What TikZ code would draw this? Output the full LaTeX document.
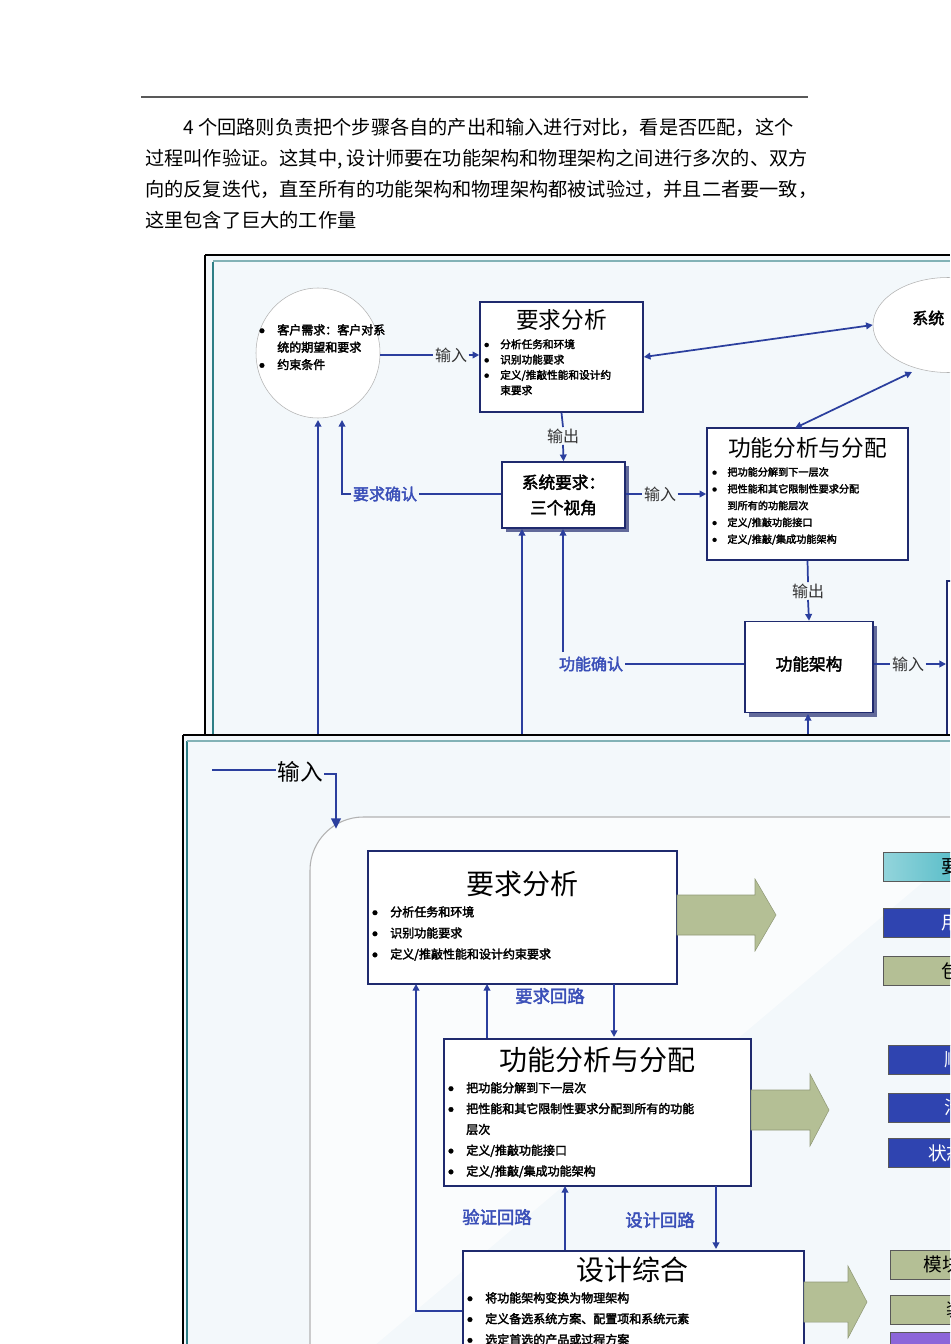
\documentclass[tikz,border=0pt]{standalone}
\usepackage{fontspec}
\newfontfamily\cjk{Noto Sans CJK SC}
\newfontfamily\cjkb[FakeBold=2.5]{Noto Sans CJK SC}
\usetikzlibrary{arrows.meta,shapes.geometric}
\definecolor{lnblue}{HTML}{2B3F9E}
\definecolor{lblblue}{HTML}{3A4FB8}
\definecolor{navy}{HTML}{1F2A6E}
\definecolor{bgpale}{HTML}{F3F8FB}
\definecolor{teal}{HTML}{2E7F86}
\definecolor{olive}{HTML}{B4BF95}
\definecolor{barblue}{HTML}{2F44B0}
\definecolor{barteal}{HTML}{4BB8C4}
\newcommand{\bl}[1]{\makebox[1.5em][l]{\raisebox{0.25ex}{\scalebox{0.45}{●}}}#1}
\newcommand{\bc}[1]{\hspace*{1.5em}#1}
\tikzset{
 bx/.style={draw=navy,line width=1.2pt,fill=white},
 lk/.style={draw=lnblue,line width=1.3pt},
 ar/.style={lk,-{Triangle[length=5pt,width=5pt]}},
 dar/.style={lk,{Triangle[length=5pt,width=5pt]}-{Triangle[length=5pt,width=5pt]}},
 lbl/.style={font=\cjkb\fontsize{12}{14}\selectfont,text=lblblue,fill=bgpale,inner sep=1pt},
 blk/.style={font=\cjk\fontsize{12}{14}\selectfont,text=black!80,inner sep=1pt},
 fat/.style={fill=olive,draw=olive!80!black,line width=0.4pt},
 tt/.style={font=\cjk\fontsize{17}{20}\selectfont,inner sep=0pt},
 sm/.style={font=\cjkb\fontsize{8}{11.5}\selectfont,align=left,inner sep=0pt,anchor=north west},
 para/.style={font=\cjk\fontsize{14.4}{16}\selectfont,anchor=base west,inner sep=0pt}
}
\begin{document}
\begin{tikzpicture}[x=0.75pt,y=-0.75pt]
\useasboundingbox (0,0) rectangle (950,1344);
\fill[white] (0,0) rectangle (950,1344);
% header rule and paragraph
\draw[gray!70!black,line width=1.4pt] (141,97) -- (808,97);
\node[para] (p1) at (183,135) {4 个回路则负责把个步骤各自的产出和输入进行对比，看是否匹配，这个};
\node[para] (p2) at (145,166) {过程叫作验证。这其中, 设计师要在功能架构和物理架构之间进行多次的、双方};
\node[para] (p3) at (145,197) {向的反复迭代，直至所有的功能架构和物理架构都被试验过，并且二者要一致，};
\node[para] (p4) at (145,228) {这里包含了巨大的工作量};

%================ Diagram 1
\begin{scope}
\clip (205,255) rectangle (950,735);
\fill[bgpale] (205,255) rectangle (950,735);
\draw[teal,line width=2pt] (213,262) -- (213,735);
\draw[teal!60,line width=1.5pt] (213,261) -- (950,261);
% left ellipse
\node[draw=gray!60,fill=white,ellipse,minimum width=0.75*124,minimum height=0.75*130,inner sep=0pt] (cust) at (318,353) {};
\node[sm,font=\cjkb\fontsize{9}{13}\selectfont] (custt) at (259,324) {\bl{客户需求：客户对系}\\\bc{统的期望和要求}\\\bl{约束条件}};
% req analysis box
\node[bx,minimum width=0.75*163,minimum height=0.75*110] (ra) at (561.5,357) {};
\node[tt] (rat) at (561.5,320) {要求分析};
\node[sm] (rab) at (484,339) {\bl{分析任务和环境}\\\bl{识别功能要求}\\\bl{定义/推敲性能和设计约}\\\bc{束要求}};
% right ellipse
\node[draw=gray!60,fill=white,ellipse,minimum width=0.75*150,minimum height=0.75*95,inner sep=0pt] (sys) at (948,325) {};
\node[tt,font=\cjkb\fontsize{12}{14}\selectfont,anchor=west] (syst) at (912,318) {系统};
% system requirements box (3D)
\fill[navy!70] (506,466) rectangle (629,532);
\node[bx,minimum width=0.75*123,minimum height=0.75*66] (sr) at (563.5,495) {};
\node[font=\cjkb\fontsize{12.5}{19}\selectfont,align=center,inner sep=0pt] (srt) at (563.5,495) {系统要求：\\三个视角};
% functional analysis box
\node[bx,minimum width=0.75*201,minimum height=0.75*132] (fa) at (807.5,494) {};
\node[tt] (fat) at (807.5,448) {功能分析与分配};
\node[sm,font=\cjkb\fontsize{7.6}{12.6}\selectfont] (fab) at (712,467) {\bl{把功能分解到下一层次}\\\bl{把性能和其它限制性要求分配}\\\bc{到所有的功能层次}\\\bl{定义/推敲功能接口}\\\bl{定义/推敲/集成功能架构}};
% functional architecture (3D)
\fill[navy!70] (749,626) rectangle (877,717);
\node[bx,minimum width=0.75*128,minimum height=0.75*91] (far) at (809,667) {};
\node[font=\cjkb\fontsize{12.5}{14}\selectfont,inner sep=0pt] (fart) at (809,664) {功能架构};
% partial right box
\node[bx,minimum width=0.75*60,minimum height=0.75*160,anchor=north west] (pb) at (946,580) {};
% labels
\node[blk] (in1) at (451,355) {输入};
\node[blk] (out1) at (563,436) {输出};
\node[lbl] (rq) at (385,494) {要求确认};
\node[lbl] (fc) at (591,664) {功能确认};
\node[blk] (in2) at (660,494) {输入};
\node[blk] (out2) at (808,591) {输出};
\node[blk] (in3) at (908,664) {输入};
% connectors
\draw[lk] (cust.east |- in1) -- (in1.west);
\draw[ar] (in1.east) -- (ra.west |- in1);
\draw[dar] (ra.east) -- (sys.west);
\draw[dar] (795,428) -- (912,372);
\draw[lk] (ra.south) -- (out1.north);
\draw[ar] (out1.south) -- (sr.north);
\draw[lk] (sr.west |- rq) -- (rq.east);
\draw[ar] (rq.west) -- (342,494) -- (342,420);
\draw[ar] (318,735) -- (318,420);
\draw[ar] (522,735) -- (522,529);
\draw[lk] (far.west |- fc) -- (fc.east);
\draw[ar] (563,652) -- (563,529);
\draw[lk] (sr.east |- in2) -- (in2.west);
\draw[ar] (in2.east) -- (fa.west |- in2);
\draw[lk] (fa.south) -- (out2.north);
\draw[ar] (out2.south) -- (far.north);
\draw[lk] (far.east |- in3) -- (in3.west);
\draw[ar] (in3.east) -- (pb.west |- in3);
\draw[ar] (808,735) -- (808,714);
\end{scope}
\draw[black,line width=1.2pt] (205,255) -- (950,255);
\draw[black,line width=0.8pt] (205,255) -- (205,735);

%================ Diagram 2
\begin{scope}
\clip (183,735) rectangle (950,1344);
\fill[bgpale] (183,735) rectangle (950,1344);
\draw[teal,line width=2pt] (187,741) -- (187,1344);
\draw[teal!60,line width=1.5pt] (187,741) -- (950,741);
\draw[gray!60,line width=0.8pt,fill=white!60!bgpale,rounded corners=40pt] (310,1400) -- (310,817) -- (1000,817);
\node[font=\cjk\fontsize{17}{20}\selectfont,inner sep=1pt] (in4) at (300,772) {输入};
\coordinate (st) at (212,770);
\draw[lk,line width=2.2pt] (st) -- (in4.west |- st);
% boxes
\node[bx,minimum width=0.75*309,minimum height=0.75*133,anchor=north west] (ra2) at (367,850) {};
\node[tt,font=\cjk\fontsize{21}{24}\selectfont] (ra2t) at (522,884) {要求分析};
\node[sm,font=\cjkb\fontsize{9}{15.8}\selectfont] (ra2b) at (372,906) {\bl{分析任务和环境}\\\bl{识别功能要求}\\\bl{定义/推敲性能和设计约束要求}};
\node[bx,minimum width=0.75*307,minimum height=0.75*147,anchor=north west] (fa2) at (443,1038) {};
\node[tt,font=\cjk\fontsize{21}{24}\selectfont] (fa2t) at (597,1060) {功能分析与分配};
\node[sm,font=\cjkb\fontsize{9}{15.6}\selectfont] (fa2b) at (448,1082) {\bl{把功能分解到下一层次}\\\bl{把性能和其它限制性要求分配到所有的功能}\\\bc{层次}\\\bl{定义/推敲功能接口}\\\bl{定义/推敲/集成功能架构}};
\node[bx,minimum width=0.75*341,minimum height=0.75*150,anchor=north west] (ds) at (462,1250) {};
\node[tt,font=\cjk\fontsize{21}{24}\selectfont] (dst) at (632,1270) {设计综合};
\node[sm,font=\cjkb\fontsize{9}{15.6}\selectfont] (dsb) at (467,1292) {\bl{将功能架构变换为物理架构}\\\bl{定义备选系统方案、配置项和系统元素}\\\bl{选定首选的产品或过程方案}};
\draw[lk,line width=2pt,-{Triangle[length=8pt,width=7pt]}] (in4.east |- 0,774) -- (336,774) -- (336,829);
% fat arrows
\draw[fat] (677,895) -- (755,895) -- (755,879) -- (776,915) -- (755,951) -- (755,935) -- (677,935) -- cycle;
\draw[fat] (751,1090) -- (810,1090) -- (810,1074) -- (829,1110) -- (810,1146) -- (810,1130) -- (751,1130) -- cycle;
\draw[fat] (804,1282) -- (848,1282) -- (848,1266) -- (867,1302) -- (848,1338) -- (848,1322) -- (804,1322) -- cycle;
% bars
\tikzset{bar/.style={draw=gray!70!black,line width=0.6pt,minimum width=0.75*90,minimum height=0.75*29,anchor=north west,inner sep=0pt,font=\cjk\fontsize{14}{16}\selectfont}}
\node[bar,left color=barteal!60,right color=barteal] (b1) at (883,852) {\hspace*{34pt}要};
\node[bar,fill=barblue,text=white] (b2) at (883,908) {\hspace*{34pt}用};
\node[bar,fill=olive] (b3) at (883,956) {\hspace*{34pt}包};
\node[bar,fill=barblue,text=white] (b4) at (888,1045) {\hspace*{30pt}顺};
\node[bar,fill=barblue,text=white] (b5) at (888,1093) {\hspace*{30pt}活};
\node[bar,fill=barblue,text=white] (b6) at (888,1138) {\hspace*{20pt}状态};
\node[bar,fill=olive] (b7) at (890,1250) {\hspace*{10pt}模块};
\node[bar,fill=olive] (b8) at (890,1295) {\hspace*{30pt}装};
\node[bar,fill=violet!50!blue!60] (b9) at (890,1332) {};
% loop connectors
\draw[ar] (ds.west |- 0,1311) -- (416,1311) -- (416,984);
\draw[ar] (487,1038) -- (487,984);
\draw[ar] (614,984) -- (614,1037);
\node[lbl,font=\cjkb\fontsize{13}{15}\selectfont,fill=none] (l1) at (550,996) {要求回路};
\draw[ar] (565,1250) -- (565,1186);
\draw[ar] (716,1186) -- (716,1249);
\node[lbl,font=\cjkb\fontsize{13}{15}\selectfont,fill=none] (l2) at (497,1217) {验证回路};
\node[lbl,font=\cjkb\fontsize{13}{15}\selectfont,fill=none] (l3) at (660,1220) {设计回路};
\end{scope}
\draw[black,line width=1.2pt] (183,735) -- (950,735);
\draw[black,line width=0.8pt] (183,735) -- (183,1344);
\end{tikzpicture}
\end{document}
